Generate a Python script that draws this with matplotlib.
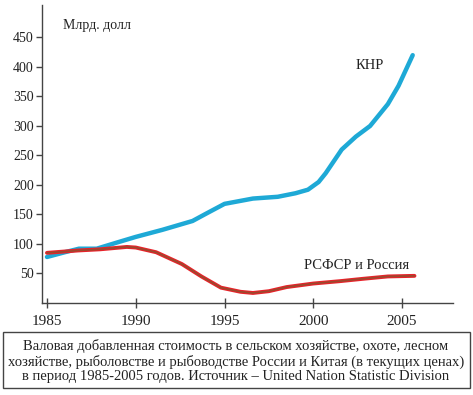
import matplotlib.pyplot as plt
from matplotlib.patches import Rectangle

# Данные, млрд. долл
china_years = [1985, 1986, 1986.8, 1987.8, 1989, 1990, 1991.5, 1993.2, 1994, 1995,
               1996.6, 1998, 1999, 1999.7, 2000.3, 2000.7, 2001.6, 2002.4, 2003.2,
               2004.2, 2004.8, 2005.6]
china_vals = [78, 86, 92, 92, 103, 112, 124, 139, 152, 168,
              177, 180, 186, 192, 205, 220, 260, 282, 300,
              337, 368, 420]

russia_years = [1985, 1986.75, 1988, 1989.5, 1990, 1991.15, 1992.6, 1993.7, 1994.8,
                1995.9, 1996.6, 1997.5, 1998.5, 2000, 2001.5, 2002.8, 2004.2, 2005.7]
russia_vals = [85, 89, 91, 95, 94, 86, 66, 45, 26,
               19, 17, 20, 27, 33, 37, 41, 45, 46]

x_ticks = [1985, 1990, 1995, 2000, 2005]
y_ticks = [50, 100, 150, 200, 250, 300, 350, 400, 450]

caption = ("Валовая добавленная стоимость в сельском хозяйстве, охоте, лесном\n"
           "хозяйстве, рыболовстве и рыбоводстве России и Китая (в текущих ценах)\n"
           "в период 1985-2005 годов. Источник – United Nation Statistic Division")

plt.rcParams['font.family'] = ['Liberation Serif', 'DejaVu Serif']

W, H = 473, 395
fig = plt.figure(figsize=(W / 100, H / 100), dpi=100)
ax = fig.add_axes([42 / W, 92 / H, 411 / W, 298 / H])

line_kw = dict(solid_capstyle='round', solid_joinstyle='round')
ax.plot(china_years, china_vals, color='#1ea9d6', lw=3.2, **line_kw)
ax.plot(russia_years, russia_vals, color='#e8222a', lw=2.8, **line_kw)
ax.plot(russia_years, russia_vals, color='#9a4a2e', lw=1.2, **line_kw)

ax.set_xlim(1984.72, 2007.87)
ax.set_ylim(0, 505)
ax.set_xticks(x_ticks)
ax.set_yticks(y_ticks)

for s in ['top', 'right']:
    ax.spines[s].set_visible(False)
for s in ['left', 'bottom']:
    ax.spines[s].set_color('#444444')
    ax.spines[s].set_linewidth(1.0)

ax.tick_params(axis='x', direction='inout', length=7, width=1, color='#444444',
               labelsize=11, pad=5, labelcolor='#222222')
ax.tick_params(axis='y', direction='out', length=4, width=1, color='#444444',
               labelsize=10, pad=2, labelcolor='#222222')

fig.text(63 / W, 1 - 25 / H, 'Млрд. долл', fontsize=10, color='#222222', va='center')
ax.text(2002.4, 403, 'КНР', fontsize=10.5, color='#222222', va='center')
ax.text(1999.5, 64, 'РСФСР и Россия', fontsize=10.5, color='#222222', va='center')

# рамка с подписью
fig.patches.append(Rectangle((3 / W, 1 - 388 / H), 467 / W, 56 / H,
                             transform=fig.transFigure, facecolor='white',
                             edgecolor='#444444', linewidth=1.0))
fig.text(236 / W, 1 - 361 / H, caption, ha='center', va='center', fontsize=10.5,
         color='#222222', linespacing=1.13)

plt.savefig('out.png', dpi=100)
